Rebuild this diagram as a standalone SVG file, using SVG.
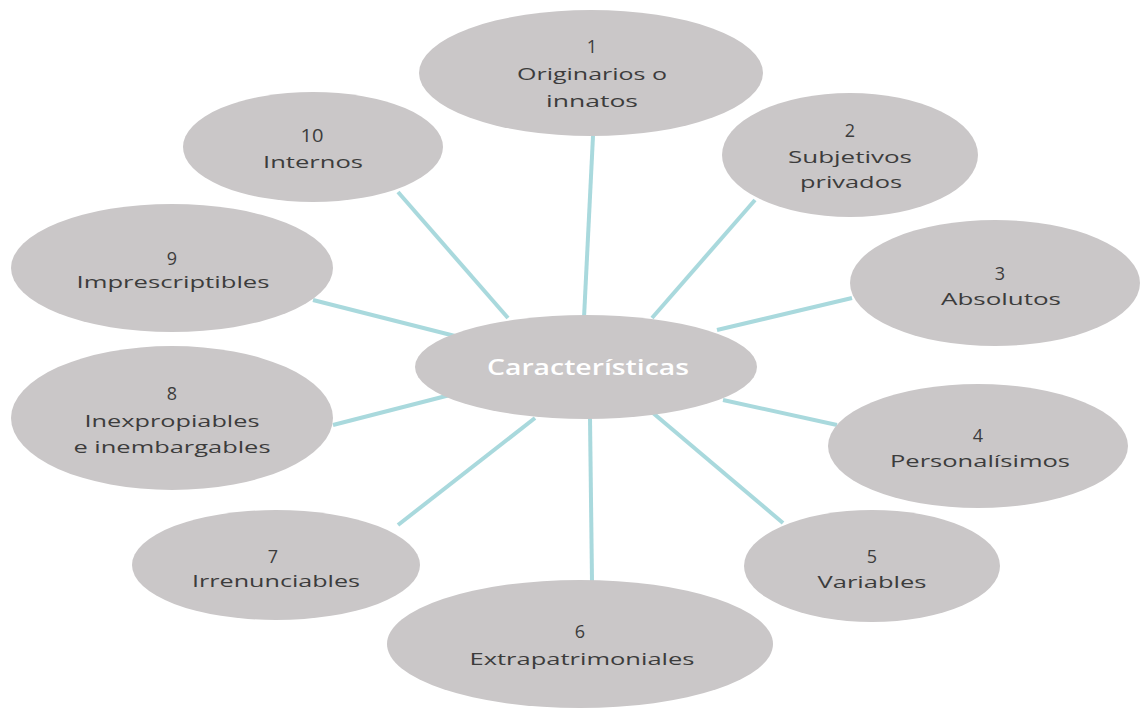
<svg xmlns="http://www.w3.org/2000/svg" width="1144" height="709" viewBox="0 0 1144 709">
<style>
.n{fill:#cac7c8}
.t{font-family:"Open Sans","DejaVu Sans",sans-serif;font-size:17px;fill:#3c3c3c;text-anchor:middle}
.d{font-family:"Open Sans","DejaVu Sans",sans-serif;font-size:18px;fill:#3c3c3c;text-anchor:middle}
.c{font-family:"Open Sans","DejaVu Sans",sans-serif;font-size:22px;fill:#ffffff;text-anchor:middle;font-weight:600}
.e{stroke:#a9d9dd;stroke-width:4;fill:none}
</style>
<rect width="1144" height="709" fill="#ffffff"/>
<g id="connectors">
<line class="e" x1="593" y1="136" x2="584" y2="318"/>
<line class="e" x1="755" y1="200" x2="652" y2="318"/>
<line class="e" x1="852" y1="298" x2="717" y2="330"/>
<line class="e" x1="837" y1="425" x2="723" y2="400"/>
<line class="e" x1="783" y1="523" x2="653" y2="413"/>
<line class="e" x1="592" y1="581" x2="590" y2="418"/>
<line class="e" x1="398" y1="525" x2="535" y2="418"/>
<line class="e" x1="333" y1="425" x2="450" y2="395"/>
<line class="e" x1="313" y1="300" x2="455" y2="336"/>
<line class="e" x1="398" y1="192" x2="508" y2="318"/>
</g>
<g id="center"><ellipse class="n" cx="586" cy="367" rx="171" ry="52"/><text class="c" x="588" y="375" textLength="202" lengthAdjust="spacingAndGlyphs">Características</text></g>
<g id="n1"><ellipse class="n" cx="591" cy="73" rx="172" ry="63"/><text class="d" x="592" y="53">1</text><text class="t" x="592" y="80" textLength="150" lengthAdjust="spacingAndGlyphs">Originarios o</text><text class="t" x="592" y="107" textLength="92" lengthAdjust="spacingAndGlyphs">innatos</text></g>
<g id="n2"><ellipse class="n" cx="850" cy="155" rx="128" ry="62"/><text class="d" x="850" y="137">2</text><text class="t" x="850" y="163" textLength="124" lengthAdjust="spacingAndGlyphs">Subjetivos</text><text class="t" x="851" y="188" textLength="102" lengthAdjust="spacingAndGlyphs">privados</text></g>
<g id="n3"><ellipse class="n" cx="995" cy="283" rx="145" ry="63"/><text class="d" x="1000" y="280">3</text><text class="t" x="1001" y="305" textLength="120" lengthAdjust="spacingAndGlyphs">Absolutos</text></g>
<g id="n4"><ellipse class="n" cx="978" cy="446" rx="150" ry="62"/><text class="d" x="978" y="442">4</text><text class="t" x="980" y="467" textLength="180" lengthAdjust="spacingAndGlyphs">Personalísimos</text></g>
<g id="n5"><ellipse class="n" cx="872" cy="566" rx="128" ry="56"/><text class="d" x="872" y="563">5</text><text class="t" x="872" y="588" textLength="109" lengthAdjust="spacingAndGlyphs">Variables</text></g>
<g id="n6"><ellipse class="n" cx="580" cy="644" rx="193" ry="64"/><text class="d" x="580" y="638">6</text><text class="t" x="582" y="665" textLength="225" lengthAdjust="spacingAndGlyphs">Extrapatrimoniales</text></g>
<g id="n7"><ellipse class="n" cx="276" cy="565" rx="144" ry="55"/><text class="d" x="273" y="563">7</text><text class="t" x="276" y="587" textLength="168" lengthAdjust="spacingAndGlyphs">Irrenunciables</text></g>
<g id="n8"><ellipse class="n" cx="172" cy="418" rx="161" ry="72"/><text class="d" x="172" y="400">8</text><text class="t" x="172" y="427" textLength="175" lengthAdjust="spacingAndGlyphs">Inexpropiables</text><text class="t" x="172" y="453" textLength="197" lengthAdjust="spacingAndGlyphs">e inembargables</text></g>
<g id="n9"><ellipse class="n" cx="172" cy="268" rx="161" ry="64"/><text class="d" x="172" y="265">9</text><text class="t" x="173" y="288" textLength="193" lengthAdjust="spacingAndGlyphs">Imprescriptibles</text></g>
<g id="n10"><ellipse class="n" cx="313" cy="147" rx="130" ry="55"/><text class="d" x="312" y="142" textLength="23" lengthAdjust="spacingAndGlyphs">10</text><text class="t" x="313" y="168" textLength="100" lengthAdjust="spacingAndGlyphs">Internos</text></g>
</svg>
